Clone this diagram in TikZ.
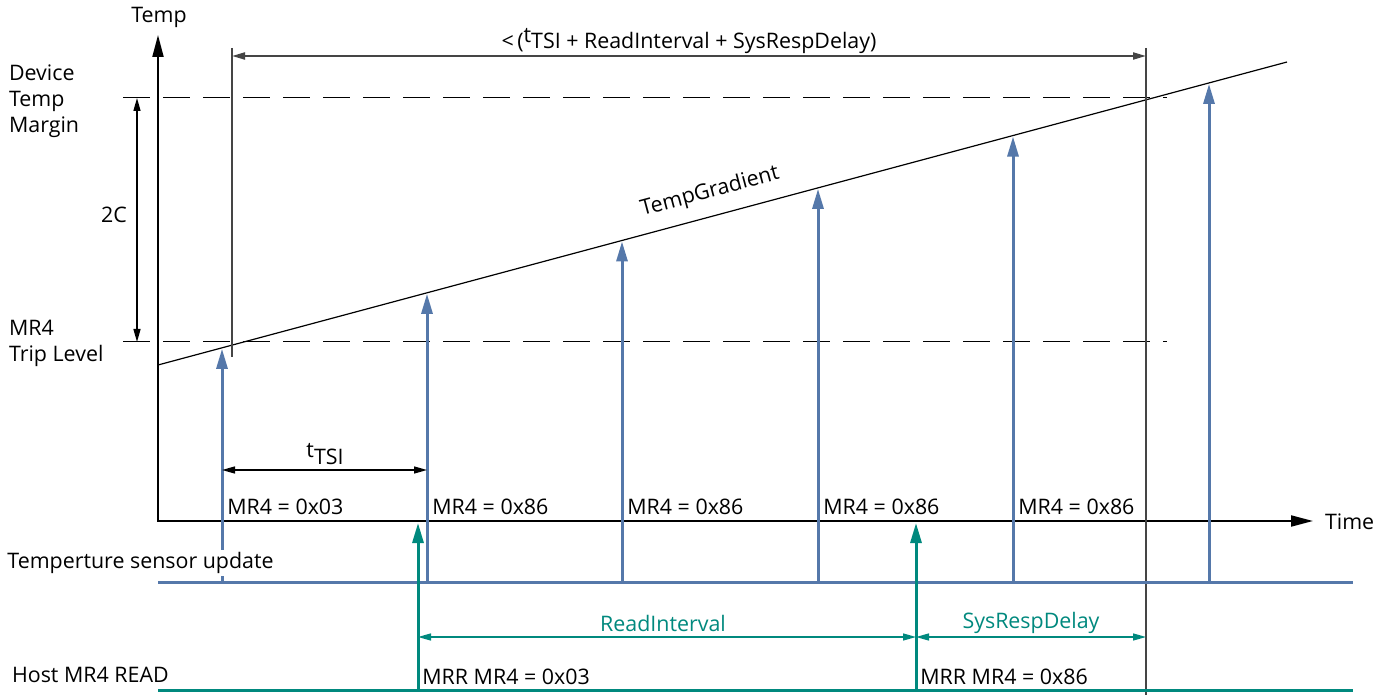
\documentclass[tikz,border=0pt]{standalone}
\usepackage{fontspec}
\setmainfont{Open Sans}
\usepackage{xcolor}
\usepackage{tikz}
\usetikzlibrary{arrows.meta,positioning,calc}
\definecolor{updcol}{HTML}{5578AA}
\definecolor{readcol}{HTML}{00897E}
\definecolor{dimcol}{HTML}{454545}

\begin{document}
\begin{tikzpicture}[x=0.5pt,y=-0.5pt,font=\fontsize{10.7}{13}\selectfont,
  ax/.style={line width=1pt,line join=miter,
             {Triangle[length=11pt,width=5.5pt]}-{Triangle[length=11pt,width=5.5pt]}},
  guide/.style={line width=0.5pt,dash pattern=on 13.5pt off 6.5pt},
  fine/.style={line width=0.7pt,dimcol},
  upd/.style={updcol,line width=1.5pt,-{Triangle[length=10pt,width=5.5pt]}},
  rd/.style={readcol,line width=1.5pt,-{Triangle[length=10pt,width=5.5pt]}},
  dimar/.style={line width=0.7pt,
                {Triangle[length=6.5pt,width=3.5pt]}-{Triangle[length=6.5pt,width=3.5pt]}},
  lbl/.style={inner sep=1pt,fill=white},
]
\fill[white] (0,0) rectangle (1387,695);
\useasboundingbox (0,0) rectangle (1387,695);

% axes
\coordinate (org) at (158,521);
\coordinate (ytop) at (158,35);
\coordinate (xend) at (1313,521);
\draw[ax] (ytop) -- (org) -- (xend);
\node (temp) at (159,17) {Temp};
\node[anchor=west] (time) at (1318,522) {Time};

% trip level and margin
\coordinate (mg0) at (123,98);  \coordinate (mg1) at (1167,98);
\coordinate (tr0) at (123,342); \coordinate (tr1) at (1167,342);
\draw[guide] (mg0) -- (mg1);
\draw[guide] (tr0) -- (tr1);
\node[anchor=west,align=left] (margin) at (2,101) {Device\\Temp\\Margin};
\node[anchor=west,align=left] (trip) at (2,343) {MR4\\Trip Level};

\coordinate (c0) at (137,98); \coordinate (c1) at (137,342);
\draw[dimar] (c0) -- (c1);
\node (twoc) at (114,215) {2C};

% gradient
\coordinate (g0) at (158,365);
\coordinate (g1) at (1287,62);
\draw[line width=0.6pt] (g0) -- (g1);
\node[rotate=15,inner sep=1pt] (grad) at (710,192) {TempGradient};

% window
\coordinate (w0) at (232,48);  \coordinate (w0b) at (232,357);
\coordinate (w1) at (1146,48); \coordinate (w1b) at (1146,695);
\draw[fine] (w0) -- (w0b);
\draw[fine] (w1) -- (w1b);
\draw[dimar,dimcol,line width=1pt] (232,56) coordinate (d0) -- (1146,56) coordinate (d1);
\node (win) at (689,41) {<\,(\raisebox{0.55ex}{t}TSI + ReadInterval + SysRespDelay)};

% sensor updates
\coordinate (s0) at (158,582); \coordinate (s1) at (1353,582);
\draw[updcol,line width=1.5pt] (s0) -- (s1);
\foreach \x [count=\i] in {222,427,622,818,1013,1209}{
  \pgfmathsetmacro{\ytip}{365-0.2684*(\x-158)+1}
  \coordinate (u\i) at (\x,582);
  \coordinate (t\i) at (\x,\ytip);
  \draw[upd] (u\i) -- (t\i);
}
\foreach \x/\v [count=\i] in {222/03,427/86,622/86,818/86,1013/86}
  \node[anchor=west,inner sep=1pt] (m\i) at (\x+3,507) {MR4 = 0x\v};
\node[lbl,anchor=west] (sens) at (5,563) {Temperture sensor update};

\draw[dimar] (u1 |- 0,470) coordinate (ts0) -- (u2 |- 0,470) coordinate (ts1);
\node (tsi) at (325,454) {\raisebox{0.55ex}{t}TSI};

% host reads
\coordinate (h0) at (158,690); \coordinate (h1) at (1353,690);
\draw[readcol,line width=1.5pt] (h0) -- (h1);
\coordinate (r1) at (418,690); \coordinate (r1t) at (418,523);
\coordinate (r2) at (916,690); \coordinate (r2t) at (916,523);
\draw[rd] (r1) -- (r1t);
\draw[rd] (r2) -- (r2t);
\node[anchor=west] (host) at (5,675) {Host MR4 READ};
\node[anchor=west,inner sep=1pt] (mrr1) at (420,677) {MRR MR4 = 0x03};
\node[anchor=west,inner sep=1pt] (mrr2) at (918,677) {MRR MR4 = 0x86};

\draw[dimar,readcol] (418,637) coordinate (ri0) -- (916,637) coordinate (ri1);
\draw[dimar,readcol] (916,637) coordinate (sd0) -- (1146,637) coordinate (sd1);
\node[text=readcol] (rint) at (663,623) {ReadInterval};
\node[text=readcol] (srd) at (1031,623) {SysRespDelay};
\end{tikzpicture}
\end{document}
